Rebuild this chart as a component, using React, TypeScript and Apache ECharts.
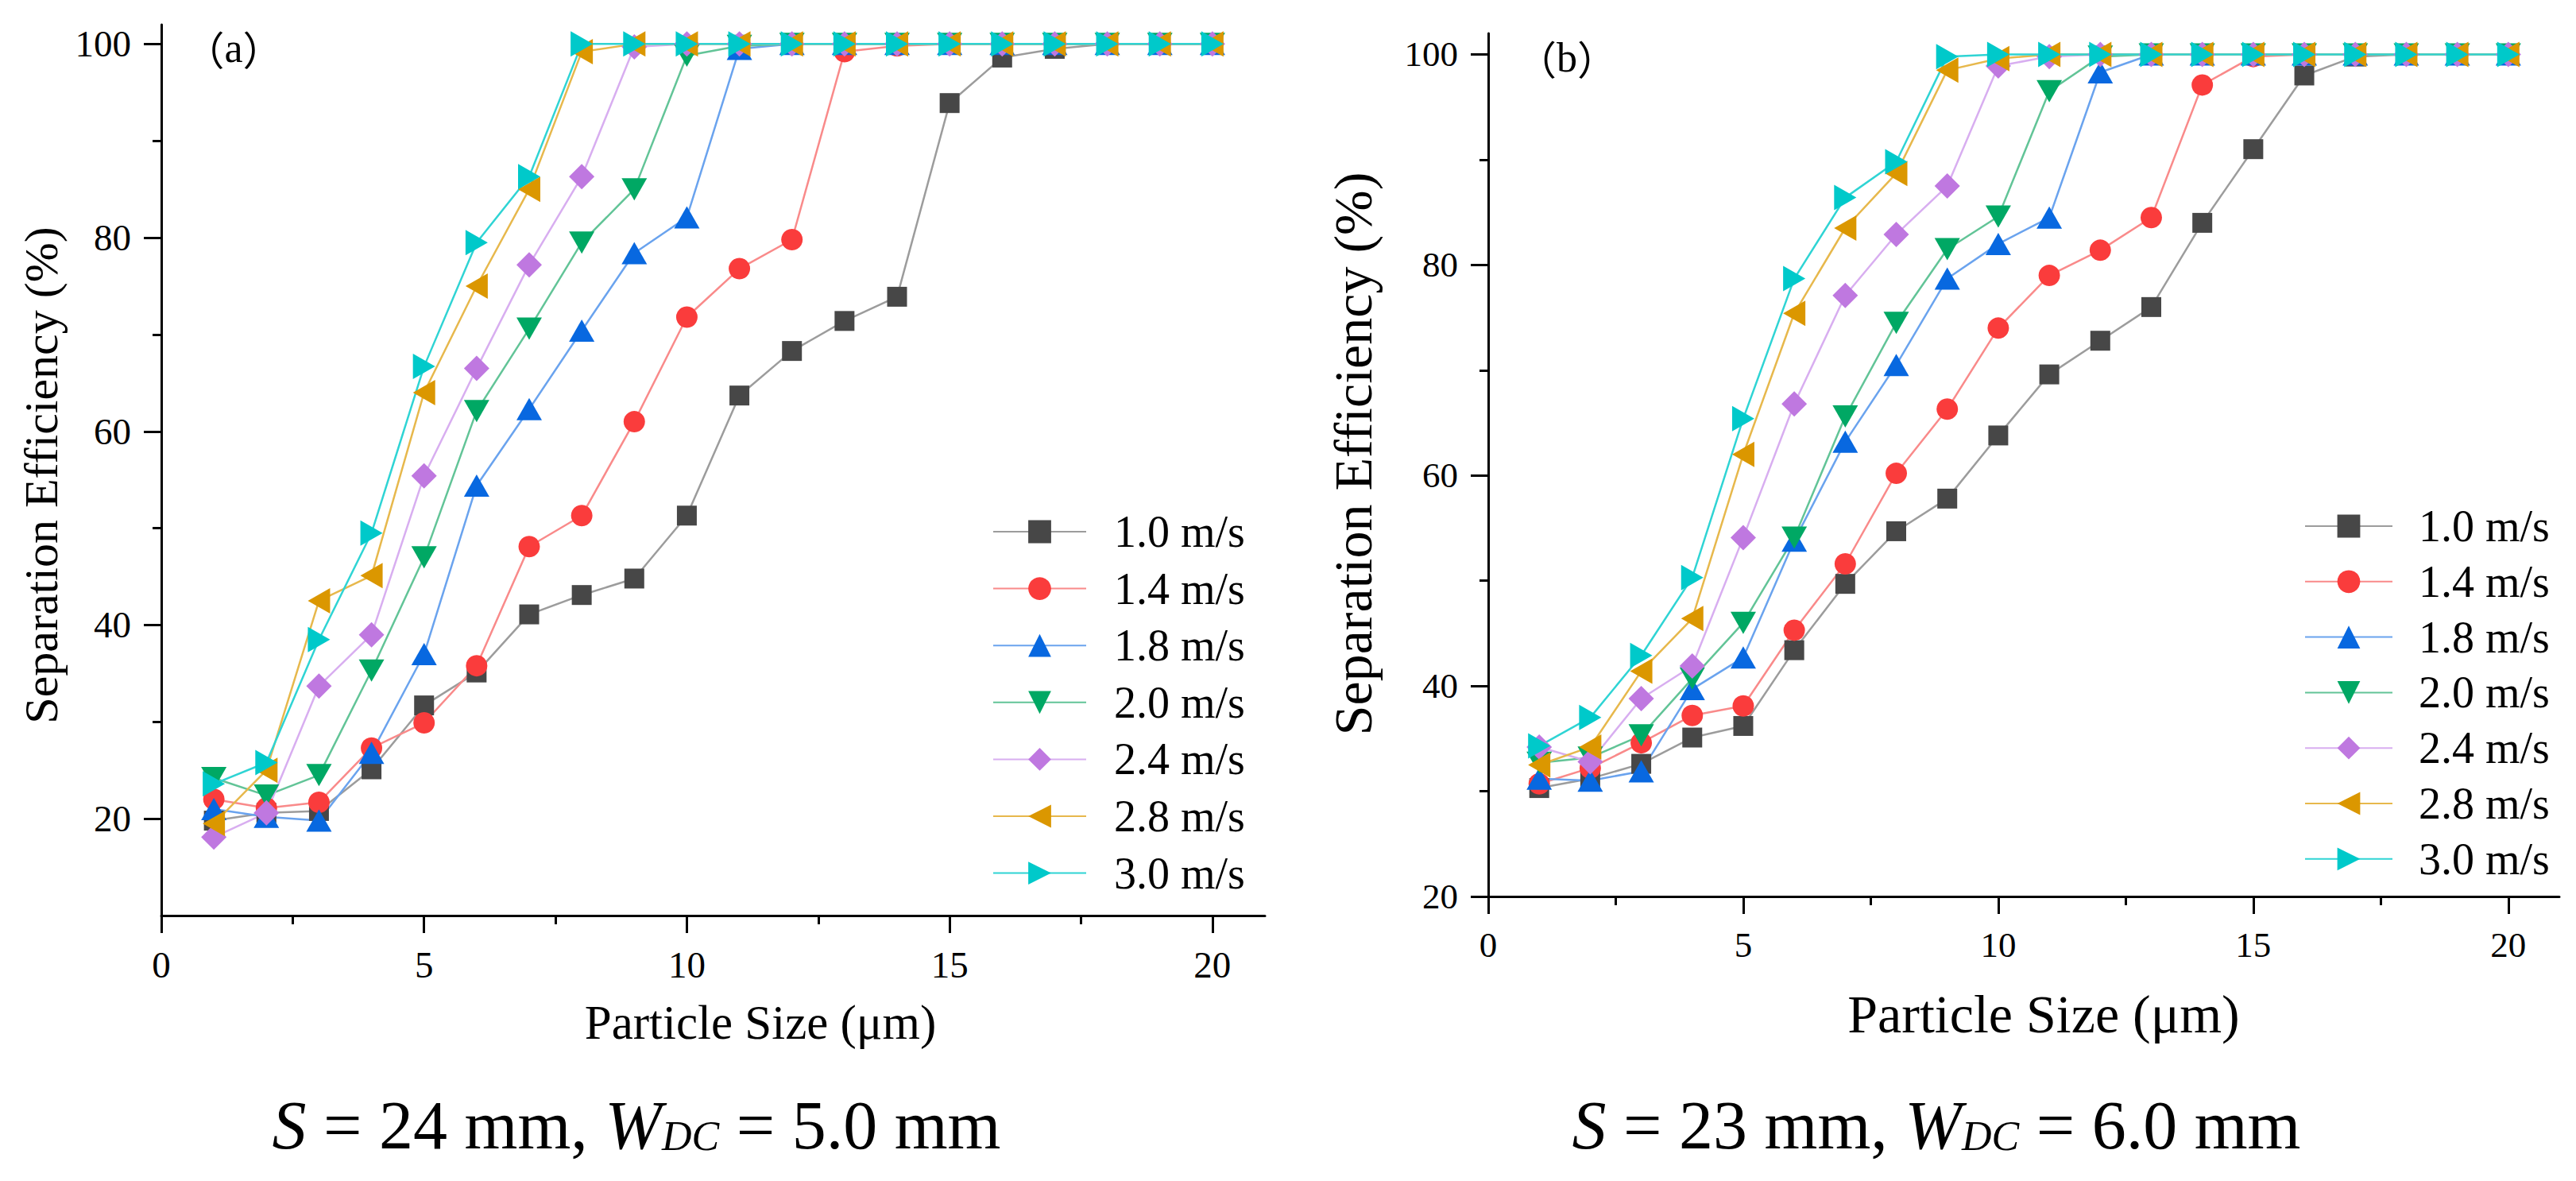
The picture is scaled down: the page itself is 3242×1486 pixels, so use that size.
import React, { useEffect, useRef } from "react";
import * as echarts from "echarts";

// ---------- data ----------
const particleSize = [1, 2, 3, 4, 5, 6, 7, 8, 9, 10, 11, 12, 13, 14, 15, 16, 17, 18, 19, 20];
const speedLabels = ["1.0 m/s", "1.4 m/s", "1.8 m/s", "2.0 m/s", "2.4 m/s", "2.8 m/s", "3.0 m/s"];

// panel (a): S = 24 mm, WDC = 5.0 mm
const a10 = [19.8, 20.6, 20.8, 25.1, 31.7, 35.1, 41.1, 43.1, 44.8, 51.3, 63.7, 68.3, 71.4, 73.9, 93.9, 98.6, 99.5, 100, 100, 100];
const a14 = [22.0, 21.1, 21.7, 27.3, 29.9, 35.8, 48.1, 51.3, 61.0, 71.8, 76.8, 79.8, 99.2, 99.8, 100, 100, 100, 100, 100, 100];
const a18 = [21.0, 20.2, 19.8, 26.8, 37.0, 54.4, 62.3, 70.4, 78.4, 82.1, 99.5, 100, 100, 100, 100, 100, 100, 100, 100, 100];
const a20 = [24.2, 22.4, 24.5, 35.3, 47.0, 62.1, 70.6, 79.5, 85.0, 98.8, 99.8, 100, 100, 100, 100, 100, 100, 100, 100, 100];
const a24 = [18.1, 20.6, 33.7, 39.0, 55.4, 66.5, 77.2, 86.3, 99.7, 100, 100, 100, 100, 100, 100, 100, 100, 100, 100, 100];
const a28 = [19.5, 25.0, 42.5, 45.1, 64.0, 75.0, 85.0, 99.2, 100, 100, 100, 100, 100, 100, 100, 100, 100, 100, 100, 100];
const a30 = [23.6, 25.8, 38.5, 49.5, 66.7, 79.5, 86.3, 100, 100, 100, 100, 100, 100, 100, 100, 100, 100, 100, 100, 100];

// panel (b): S = 23 mm, WDC = 6.0 mm
const b10 = [30.3, 31.2, 32.6, 35.1, 36.2, 43.4, 49.7, 54.7, 57.8, 63.8, 69.6, 72.8, 76.0, 84.0, 91.0, 98.0, 99.8, 100, 100, 100];
const b14 = [30.7, 32.2, 34.6, 37.2, 38.1, 45.3, 51.6, 60.2, 66.3, 74.0, 79.0, 81.4, 84.5, 97.1, 99.8, 100, 100, 100, 100, 100];
const b18 = [31.2, 31.0, 31.9, 39.7, 42.7, 53.8, 63.2, 70.5, 78.7, 82.0, 84.5, 98.3, 100, 100, 100, 100, 100, 100, 100, 100];
const b20 = [32.7, 33.2, 35.3, 40.7, 46.0, 54.1, 65.6, 74.5, 81.5, 84.6, 96.5, 99.8, 100, 100, 100, 100, 100, 100, 100, 100];
const b24 = [34.2, 32.8, 38.8, 41.9, 54.1, 66.8, 77.1, 82.9, 87.5, 98.9, 99.8, 100, 100, 100, 100, 100, 100, 100, 100, 100];
const b28 = [32.5, 34.2, 41.4, 46.4, 62.0, 75.4, 83.5, 88.7, 98.5, 99.6, 100, 100, 100, 100, 100, 100, 100, 100, 100, 100];
const b30 = [34.3, 37.0, 42.9, 50.3, 65.4, 78.7, 86.4, 89.8, 99.8, 100, 100, 100, 100, 100, 100, 100, 100, 100, 100, 100];

const xMajorTicks = [0, 5, 10, 15, 20];
const xMinorTicks = [2.5, 7.5, 12.5, 17.5];
const yMajorTicks = [20, 40, 60, 80, 100];
const yMinorTicks = [30, 50, 70, 90];

// ---------- styles ----------
const markerColors = ["#474747", "#FA3C3C", "#0868E0", "#00A864", "#BF78E0", "#DB9700", "#00C9CA"];
const lineColors = ["#9c9c9c", "#f98a8a", "#6aa3ee", "#62c497", "#d8aef0", "#e7b84c", "#2fd4d4"];
const symbols = [
  "rect",
  "circle",
  "triangle",
  "path://M0,0 L10,0 L5,10 Z",
  "diamond",
  "path://M10,0 L10,10 L0,5 Z",
  "path://M0,0 L0,10 L10,5 Z",
];
const symbolSizes: any[] = [25, 27, [32, 28], [32, 28], 32, [28, 32], [28, 32]];

const SERIF = '"Liberation Serif", "Times New Roman", serif';
const SERIF_CJK = '"Noto Sans CJK SC", "Liberation Serif", serif';
const BLACK = "#000";

function makeAxes(gridIndex: number, yMin: number, labelSize: number) {
  const lineStyle = { color: BLACK, width: 3 };
  const xMain = {
    type: "value",
    gridIndex,
    position: "bottom",
    min: 0,
    max: 21,
    axisLine: { show: true, onZero: false, lineStyle },
    axisTick: { show: true, inside: false, length: 22, lineStyle, customValues: xMajorTicks },
    axisLabel: {
      show: true,
      customValues: xMajorTicks,
      margin: 38,
      fontFamily: SERIF,
      fontSize: labelSize,
      color: BLACK,
    },
    splitLine: { show: false },
  };
  const xMinor = {
    type: "value",
    gridIndex,
    position: "bottom",
    min: 0,
    max: 21,
    axisLine: { show: false, onZero: false },
    axisTick: { show: true, inside: false, length: 11, lineStyle, customValues: xMinorTicks },
    axisLabel: { show: false },
    splitLine: { show: false },
  };
  const yMain = {
    type: "value",
    gridIndex,
    position: "left",
    min: yMin,
    max: 102,
    axisLine: { show: true, onZero: false, lineStyle },
    axisTick: { show: true, inside: false, length: 22, lineStyle, customValues: yMajorTicks },
    axisLabel: {
      show: true,
      customValues: yMajorTicks,
      margin: 38,
      fontFamily: SERIF,
      fontSize: labelSize,
      color: BLACK,
    },
    splitLine: { show: false },
  };
  const yMinor = {
    type: "value",
    gridIndex,
    position: "left",
    min: yMin,
    max: 102,
    axisLine: { show: false, onZero: false },
    axisTick: { show: true, inside: false, length: 11, lineStyle, customValues: yMinorTicks },
    axisLabel: { show: false },
    splitLine: { show: false },
  };
  return { xMain, xMinor, yMain, yMinor };
}

function makeSeries(panelIndex: number, sets: number[][]) {
  return sets.map((vals, i) => ({
    type: "line",
    name: speedLabels[i],
    xAxisIndex: panelIndex * 2,
    yAxisIndex: panelIndex * 2,
    data: particleSize.map((x, k) => [x, vals[k]]),
    symbol: symbols[i],
    symbolSize: symbolSizes[i],
    showSymbol: true,
    showAllSymbol: true,
    clip: false,
    itemStyle: { color: markerColors[i], borderWidth: 0 },
    lineStyle: { color: lineColors[i], width: 2.5 },
    emphasis: { disabled: true },
  }));
}

function makeLegend(left: number, top: number, itemWidth: number, itemGap: number, textPad: number) {
  return {
    orient: "vertical",
    left,
    top,
    padding: 0,
    itemWidth,
    itemHeight: 36,
    itemGap,
    selectedMode: false,
    data: speedLabels,
    itemStyle: { borderWidth: 0 },
    textStyle: {
      fontFamily: SERIF,
      fontSize: 56,
      lineHeight: 56,
      color: BLACK,
      padding: [0, 0, 0, textPad],
    },
  };
}

function captionText(x: number, y: number, sVal: string, wVal: string) {
  return {
    type: "text",
    x,
    y,
    style: {
      text: `{i|S}{n| = ${sVal} mm, }{i|W}{s|DC}{n| = ${wVal} mm}`,
      rich: {
        n: { fontFamily: SERIF, fontSize: 86, fill: BLACK, verticalAlign: "bottom" },
        i: { fontFamily: SERIF, fontSize: 86, fontStyle: "italic", fill: BLACK, verticalAlign: "bottom" },
        s: { fontFamily: SERIF, fontSize: 52, fontStyle: "italic", fill: BLACK, verticalAlign: "bottom", padding: [0, 0, 4, 0] },
      },
      align: "center",
      verticalAlign: "middle",
    },
  };
}

function plainText(x: number, y: number, text: string, size: number, rotation = 0, family = SERIF) {
  return {
    type: "text",
    x,
    y,
    rotation,
    style: {
      text,
      fontFamily: family,
      fontSize: size,
      fill: BLACK,
      align: "center",
      verticalAlign: "middle",
    },
  };
}

export default function App() {
  const ref = useRef<HTMLDivElement>(null);

  useEffect(() => {
    if (!ref.current) return;
    const chart = echarts.init(ref.current, null, { renderer: "svg", width: 3242, height: 1486 });

    const A = makeAxes(0, 10, 47);
    const B = makeAxes(1, 20, 45);

    const panelLabel = (x: number, y: number, letter: string) => ({
      type: "text",
      x,
      y,
      style: {
        text: `{p|（}{l|${letter}}{p|）}`,
        rich: {
          p: { fontFamily: SERIF_CJK, fontSize: 50, fill: BLACK, verticalAlign: "middle" },
          l: { fontFamily: SERIF, fontSize: 52, fill: BLACK, verticalAlign: "middle" },
        },
        align: "center",
        verticalAlign: "middle",
      },
    });

    const option: any = {
      animation: false,
      backgroundColor: "#ffffff",
      grid: [
        { left: 203, top: 31, width: 1389, height: 1121 },
        { left: 1873, top: 42, width: 1348, height: 1086 },
      ],
      xAxis: [A.xMain, A.xMinor, B.xMain, B.xMinor],
      yAxis: [A.yMain, A.yMinor, B.yMain, B.yMinor],
      legend: [
        makeLegend(1249, 641, 117, 15.6, 30),
        makeLegend(2900, 634, 110, 13.8, 28),
      ],
      series: [
        ...makeSeries(0, [a10, a14, a18, a20, a24, a28, a30]),
        ...makeSeries(1, [b10, b14, b18, b20, b24, b28, b30]),
      ],
      graphic: [
        panelLabel(294, 60, "a"),
        panelLabel(1972, 72, "b"),
        plainText(52, 598, "Separation Efficiency (%)", 60, Math.PI / 2),
        plainText(1703, 571, "Separation Efficiency (%)", 68, Math.PI / 2),
        plainText(957, 1286, "Particle Size (μm)", 61),
        plainText(2572, 1276, "Particle Size (μm)", 68),
        captionText(801, 1416, "24", "5.0"),
        captionText(2437, 1416, "23", "6.0"),
      ],
    };

    chart.setOption(option);
    return () => {
      chart.dispose();
    };
  }, []);

  return (
    <div
      ref={ref}
      style={{
        position: "fixed",
        left: 0,
        top: 0,
        width: 3242,
        height: 1486,
        background: "#ffffff",
      }}
    />
  );
}
